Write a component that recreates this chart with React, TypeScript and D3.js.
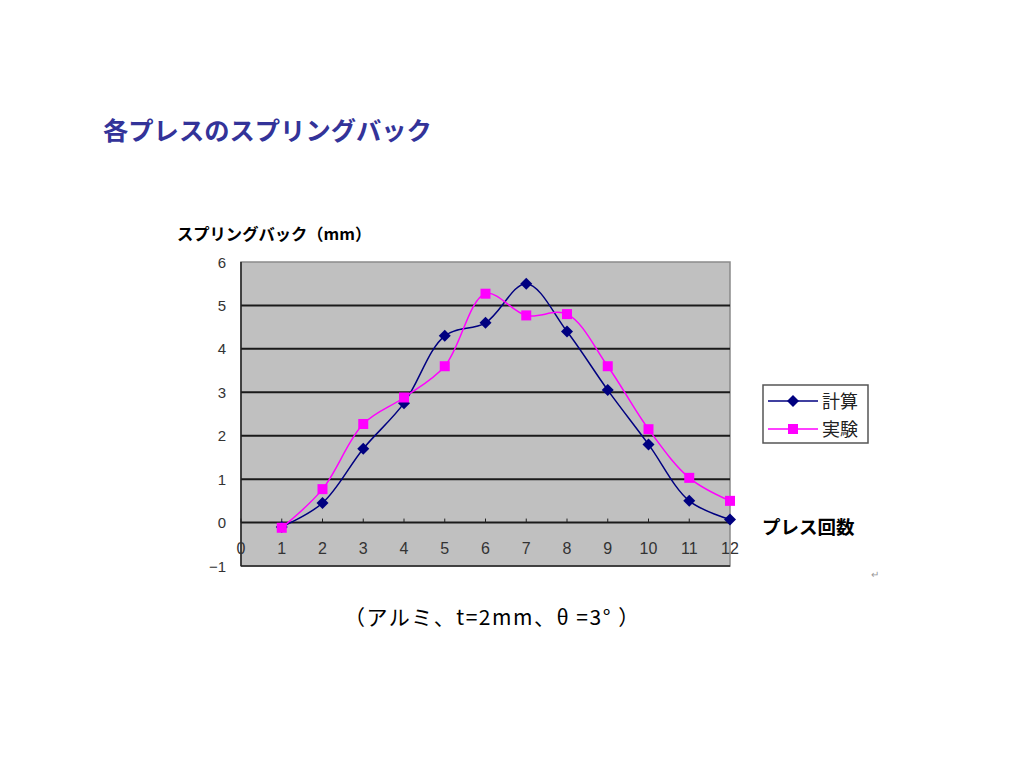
import React from "react";
import * as d3 from "d3";

const pressCounts = [1, 2, 3, 4, 5, 6, 7, 8, 9, 10, 11, 12];
const calcValues = [-0.1, 0.45, 1.7, 2.75, 4.3, 4.6, 5.5, 4.4, 3.05, 1.8, 0.5, 0.07];
const expValues = [-0.12, 0.77, 2.27, 2.88, 3.6, 5.27, 4.77, 4.8, 3.6, 2.15, 1.03, 0.5];
const yTicks = [-1, 0, 1, 2, 3, 4, 5, 6];
const xTicks = [0, 1, 2, 3, 4, 5, 6, 7, 8, 9, 10, 11, 12];
const seriesNames = ["計算", "実験"];
const seriesColors = ["#000080", "#ff00ff"];

const title = "各プレスのスプリングバック";
const yTitle = "スプリングバック（mm）";
const xTitle = "プレス回数";
const caption = "（アルミ、t=2mm、θ =3° ）";

const JP = "'Noto Sans CJK JP', 'Noto Sans', sans-serif";
const NUM = "'Liberation Sans', Arial, sans-serif";

export default function App() {
  const left = 241, right = 730, top = 262, bottom = 566;
  const x = d3.scaleLinear().domain([0, 12]).range([left, right]);
  const y = d3.scaleLinear().domain([-1, 6]).range([bottom, top]);
  const line = d3
    .line<number>()
    .x((_, i) => x(pressCounts[i]))
    .y((d) => y(d))
    .curve(d3.curveCatmullRom.alpha(0.5));

  const diamond = (cx: number, cy: number, r: number) =>
    `M${cx},${cy - r}L${cx + r},${cy}L${cx},${cy + r}L${cx - r},${cy}Z`;

  return (
    <svg
      width={1024}
      height={768}
      style={{ position: "absolute", left: 0, top: 0, background: "#fff" }}
    >
      <rect x={0} y={0} width={1024} height={768} fill="#fff" />
      <text x={103} y={140} fontFamily={JP} fontWeight="bold" fontSize={25.3} fill="#333399">
        {title}
      </text>
      <text x={177} y={240} fontFamily={JP} fontWeight="bold" fontSize={16.3} fill="#000">
        {yTitle}
      </text>

      {/* plot area */}
      <rect x={left} y={top} width={right - left} height={bottom - top} fill="#c0c0c0" stroke="#8a8a8a" strokeWidth={1.5} />
      {yTicks
        .filter((t) => t > -1 && t < 6)
        .map((t) => (
          <line key={t} x1={left} x2={right} y1={y(t)} y2={y(t)} stroke="#1a1a1a" strokeWidth={2} />
        ))}
      <line x1={left} x2={left} y1={top} y2={bottom} stroke="#222" strokeWidth={1.5} />
      <line x1={left} x2={right} y1={bottom} y2={bottom} stroke="#222" strokeWidth={1.5} />
      {xTicks.map((t) => (
        <line key={t} x1={x(t)} x2={x(t)} y1={y(0) - 4} y2={y(0)} stroke="#222" strokeWidth={1} />
      ))}

      {/* tick labels */}
      {yTicks.map((t) => (
        <text key={t} x={226} y={y(t) + 5.5} textAnchor="end" fontFamily={NUM} fontSize={15} fill="#333">
          {t < 0 ? `−${-t}` : t}
        </text>
      ))}
      {xTicks.map((t) => (
        <text key={t} x={x(t)} y={y(0) + 31} textAnchor="middle" fontFamily={NUM} fontSize={16} fill="#333">
          {t}
        </text>
      ))}

      {/* series */}
      <path d={line(calcValues) || ""} fill="none" stroke={seriesColors[0]} strokeWidth={1.5} />
      <path d={line(expValues) || ""} fill="none" stroke={seriesColors[1]} strokeWidth={1.5} />
      {calcValues.map((v, i) => (
        <path key={i} d={diamond(x(pressCounts[i]), y(v), 6)} fill={seriesColors[0]} />
      ))}
      {expValues.map((v, i) => (
        <rect key={i} x={x(pressCounts[i]) - 5} y={y(v) - 5} width={10} height={10} fill={seriesColors[1]} />
      ))}

      {/* legend */}
      <rect x={763} y={385} width={105} height={58} fill="#fff" stroke="#555" strokeWidth={1.5} />
      <line x1={768} x2={818} y1={401} y2={401} stroke={seriesColors[0]} strokeWidth={1.5} />
      <path d={diamond(793, 401, 6)} fill={seriesColors[0]} />
      <text x={822} y={408} fontFamily={JP} fontSize={18} fill="#222">{seriesNames[0]}</text>
      <line x1={768} x2={818} y1={429} y2={429} stroke={seriesColors[1]} strokeWidth={1.5} />
      <rect x={788} y={424} width={10} height={10} fill={seriesColors[1]} />
      <text x={822} y={436} fontFamily={JP} fontSize={18} fill="#222">{seriesNames[1]}</text>

      <text x={762} y={534} fontFamily={JP} fontWeight="bold" fontSize={18.5} fill="#000">
        {xTitle}
      </text>
      <text x={875} y={578} fontFamily={NUM} fontSize={10} fill="#999" textAnchor="middle">↵</text>

      <text x={344} y={625} fontFamily={JP} fontSize={21} letterSpacing={1.5} fill="#000">
        {caption}
      </text>
    </svg>
  );
}
